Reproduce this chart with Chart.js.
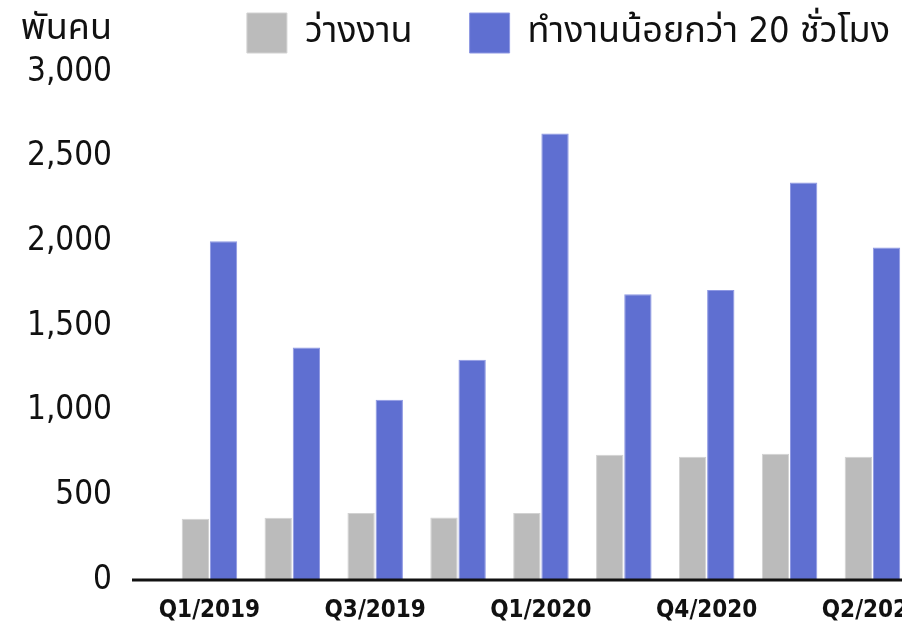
<!DOCTYPE html>
<html>
<head>
<meta charset="utf-8">
<script src="https://cdn.jsdelivr.net/npm/chart.js@4.4.1/dist/chart.umd.min.js"></script>
<style>
  html, body { margin: 0; padding: 0; background: #fff; overflow: hidden; }
  #graph { display: block; width: 940px; height: 627px; }
</style>
</head>
<body>
<canvas id="graph" width="940" height="627"></canvas>
<script>
// ไตรมาส (แกน x) - แสดงป้ายทุกๆ 2 ไตรมาส
const quarters = ['Q1/2019', 'Q2/2019', 'Q3/2019', 'Q4/2019', 'Q1/2020', 'Q3/2020', 'Q4/2020', 'Q1/2021', 'Q2/2021'];
// พันคน
const unemployed = [361, 367, 395, 369, 395, 740, 728, 746, 728];
const underTwentyHours = [2000, 1373, 1065, 1300, 2637, 1688, 1712, 2347, 1964];
const yTicks = [0, 500, 1000, 1500, 2000, 2500, 3000];

const fontMain = "'DejaVu Sans Condensed', 'Noto Sans Thai', 'Noto Sans', sans-serif";

let ctx = document.getElementById('graph').getContext('2d');

// ปรับตำแหน่ง legend + วาดหน่วย + เส้นแกน 0
const extras = {
  id: 'extras',
  beforeInit(chart) {
    const fit = chart.legend.fit;
    chart.legend.fit = function () {
      fit.bind(chart.legend)();
      this.height = 72;
    };
  },
  afterLayout(chart) {
    chart.legend.top = -44;
    chart.legend.left += 23;
    chart.legend.right += 23;
  },
  afterDraw(chart) {
    const c = chart.ctx;
    const y = chart.scales.y.getPixelForValue(0);
    c.save();
    c.strokeStyle = '#111';
    c.lineWidth = 3;
    c.beginPath();
    c.moveTo(chart.chartArea.left - 36, y);
    c.lineTo(chart.width, y);
    c.stroke();
    c.fillStyle = '#111';
    c.font = "36px " + fontMain;
    c.textAlign = 'right';
    c.textBaseline = 'middle';
    c.fillText('พันคน', 112, 30);
    c.restore();
  }
};

let graph = new Chart(ctx, {
  type: 'bar',
  data: {
    labels: quarters,
    datasets: [{
      label: 'ว่างงาน',
      data: unemployed,
      backgroundColor: '#bbbbbb',
      borderColor: '#d2d2d2',
      borderWidth: 1
    }, {
      label: 'ทำงานน้อยกว่า 20 ชั่วโมง',
      data: underTwentyHours,
      backgroundColor: '#5f6fd1',
      borderColor: '#8e98e3',
      borderWidth: 1
    }]
  },
  options: {
    responsive: false,
    animation: false,
    layout: { padding: { left: 0, right: 16, top: 0, bottom: 0 } },
    datasets: {
      bar: { categoryPercentage: 0.68, barPercentage: 0.97 }
    },
    plugins: {
      tooltip: { enabled: false },
      legend: {
        position: 'top',
        align: 'end',
        labels: {
          boxWidth: 40,
          boxHeight: 40,
          padding: 57,
          color: '#111',
          font: { size: 36, family: fontMain }
        }
      }
    },
    scales: {
      x: {
        grid: { display: false, drawTicks: false },
        border: { display: false },
        ticks: {
          autoSkip: false,
          maxRotation: 0,
          padding: 16,
          color: '#111',
          font: { size: 24, weight: 'bold', family: fontMain },
          callback: (val, i) => (i % 2 === 0 ? quarters[i] : '')
        },
        afterFit: (scale) => { scale.height = 47; }
      },
      y: {
        min: 0,
        max: 3000,
        afterBuildTicks: (scale) => { scale.ticks = yTicks.map(v => ({ value: v })); },
        grid: { display: false, drawTicks: false },
        border: { display: false },
        ticks: {
          padding: 56,
          color: '#111',
          font: { size: 33, family: fontMain },
          callback: (v) => v.toLocaleString('en-US')
        },
        afterFit: (scale) => {
          scale.width = 168;
          scale.paddingTop = 20;
          scale.paddingBottom = 20;
        }
      }
    }
  },
  plugins: [extras]
});
</script>
</body>
</html>
